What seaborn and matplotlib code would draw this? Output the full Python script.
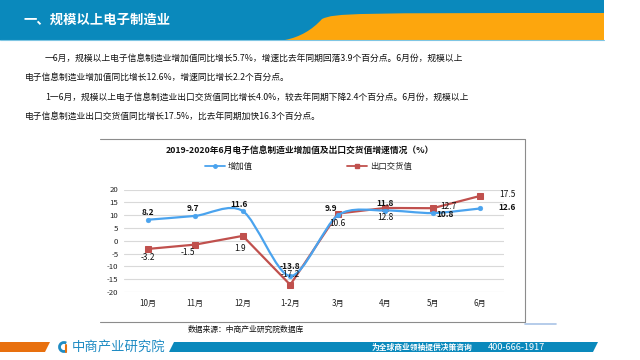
import matplotlib
matplotlib.use("Agg")
import matplotlib.pyplot as plt
import seaborn as sns
import numpy as np
import pandas as pd
from matplotlib.path import Path
from matplotlib.patches import PathPatch, Polygon, Rectangle, Arc
from matplotlib.lines import Line2D

# ---------------- data ----------------
months = ["10月", "11月", "12月", "1-2月", "3月", "4月", "5月", "6月"]
added_value = [8.2, 9.7, 11.6, -13.8, 9.9, 11.8, 10.8, 12.6]
export_value = [-3.2, -1.5, 1.9, -17.2, 10.6, 12.8, 12.7, 17.5]
y_ticks = [20, 15, 10, 5, 0, -5, -10, -15, -20]
series_names = ["增加值", "出口交货值"]

sns.set_theme(style="white")
FONT = ["Noto Sans CJK SC", "DejaVu Sans"]
plt.rcParams["font.family"] = FONT
plt.rcParams["axes.unicode_minus"] = False

BLUE_HDR = "#0A89BC"
ORANGE_HDR = "#FDA60D"
C_BLUE = "#4AA3EE"
C_RED = "#C0504D"

fig = plt.figure(figsize=(6.4, 3.6), dpi=100)
fig.patch.set_facecolor("white")

# background axes in pixel coordinates
bg = fig.add_axes([0, 0, 1, 1])
bg.set_xlim(0, 640)
bg.set_ylim(360, 0)
bg.axis("off")

# header
bg.add_patch(Rectangle((0, 0), 604, 40, color=BLUE_HDR, lw=0))
hdr = Path([(285, 40), (300, 37), (312, 30), (322, 19), (335, 13), (350, 13), (604, 13), (604, 40), (285, 40)],
           [Path.MOVETO, Path.CURVE4, Path.CURVE4, Path.CURVE4, Path.CURVE4, Path.LINETO, Path.LINETO, Path.LINETO, Path.CLOSEPOLY])
bg.add_patch(PathPatch(hdr, facecolor=ORANGE_HDR, edgecolor="none"))
bg.plot([0, 604], [39.5, 39.5], color="#7FC6E3", lw=0.8)
bg.text(23, 20, "一、规模以上电子制造业", color="white", fontsize=9.6, fontweight="bold",
        va="center", ha="left")

# paragraphs
para = [
    (45, 59, "一6月，规模以上电子信息制造业增加值同比增长5.7%，增速比去年同期回落3.9个百分点。6月份，规模以上"),
    (25, 78, "电子信息制造业增加值同比增长12.6%，增速同比增长2.2个百分点。"),
    (45, 98, "1一6月，规模以上电子信息制造业出口交货值同比增长4.0%，较去年同期下降2.4个百分点。6月份，规模以上"),
    (25, 117, "电子信息制造业出口交货值同比增长17.5%，比去年同期加快16.3个百分点。"),
]
for x, y, t in para:
    bg.text(x, y, t, fontsize=6.3, color="#111111", va="center", ha="left")

# chart frame
bg.plot([100, 525], [139, 139], color="#8C8C8C", lw=0.8)
bg.plot([525, 525], [139, 322], color="#8C8C8C", lw=0.8)
bg.plot([100, 525], [322, 322], color="#8C8C8C", lw=0.8)
bg.plot([525, 556], [323.5, 323.5], color="#A9C4E6", lw=1.2)

# chart title + legend
bg.text(300, 151, "2019-2020年6月电子信息制造业增加值及出口交货值增速情况（%）",
        fontsize=6.3, fontweight="bold", color="#111111", ha="center", va="center")
bg.add_line(Line2D([205, 225], [166, 166], color=C_BLUE, lw=1.3))
bg.plot([215], [166], marker="o", ms=2.5, color=C_BLUE)
bg.text(228, 166, series_names[0], fontsize=6, ha="left", va="center", color="#222222")
bg.add_line(Line2D([347, 367], [166, 166], color=C_RED, lw=1.3))
bg.plot([357], [166], marker="s", ms=3.5, color=C_RED)
bg.text(370, 166, series_names[1], fontsize=6, ha="left", va="center", color="#222222")

bg.text(246, 330, "数据来源：中商产业研究院数据库", fontsize=5.6, ha="center", va="center", color="#111111")

# footer
bg.add_patch(Polygon([(0, 342), (50, 342), (45, 352), (0, 352)], closed=True, color="#E8700E", lw=0))
bg.add_patch(Polygon([(174, 342), (598, 342), (593, 352), (169, 352)], closed=True, color=BLUE_HDR, lw=0))
bg.add_patch(Arc((64, 347), 9, 9, theta1=60, theta2=300, color="#1E8BC3", lw=2))
bg.plot([66, 66], [345, 352], color="#E8700E", lw=1.5)
bg.text(72, 347, "中商产业研究院", fontsize=9.6, color="#1E8BC3", ha="left", va="center")
bg.text(372, 347, "为全球商业领袖提供决策咨询", fontsize=5.6, color="white", ha="left", va="center", fontweight="bold")
bg.text(488, 347, "400-666-1917", fontsize=6.6, color="white", ha="left", va="center")

# ---------------- chart axes ----------------
L, R = 124 / 640, 504 / 640
B, T = 1 - 292 / 360, 1 - 189.5 / 360
ax = fig.add_axes([L, B, R - L, T - B])
ax.set_facecolor("none")

df = pd.DataFrame({"x": np.arange(len(months)), "增加值": added_value, "出口交货值": export_value})

# red series: straight lines with square markers
sns.lineplot(data=df, x="x", y="出口交货值", ax=ax, color=C_RED, lw=1.6, marker="s",
             markersize=5, markeredgecolor=C_RED, zorder=3)

# blue series: smoothed (Excel-style) bezier through data points
xs = df["x"].to_numpy(float)
ys = df["增加值"].to_numpy(float)
verts = [(xs[0], ys[0])]
codes = [Path.MOVETO]
n = len(xs)
k = 7.0
for i in range(n - 1):
    p0 = np.array([xs[max(i - 1, 0)], ys[max(i - 1, 0)]])
    p1 = np.array([xs[i], ys[i]])
    p2 = np.array([xs[i + 1], ys[i + 1]])
    p3 = np.array([xs[min(i + 2, n - 1)], ys[min(i + 2, n - 1)]])
    c1 = p1 + (p2 - p0) / k
    c2 = p2 - (p3 - p1) / k
    verts += [tuple(c1), tuple(c2), tuple(p2)]
    codes += [Path.CURVE4] * 3
ax.add_patch(PathPatch(Path(verts, codes), facecolor="none", edgecolor=C_BLUE, lw=1.6, zorder=4))
sns.scatterplot(data=df, x="x", y="增加值", ax=ax, color=C_BLUE, s=12, edgecolor=C_BLUE,
                marker="o", zorder=5, legend=False)

ax.set_xlim(-0.5, len(months) - 0.5)
ax.set_ylim(-20, 20)
ax.set_yticks(y_ticks)
ax.set_yticklabels([str(v) for v in y_ticks], fontsize=5.6, color="#222222")
ax.set_xticks(np.arange(len(months)))
ax.set_xticklabels(months, fontsize=5.8, color="#222222")
ax.tick_params(axis="x", length=0, pad=5)
ax.tick_params(axis="y", length=0, pad=4)
ax.grid(axis="y", color="#D9D9D9", lw=0.8)
ax.grid(axis="x", visible=False)
for s in ax.spines.values():
    s.set_visible(False)
ax.set_xlabel("")
ax.set_ylabel("")

# data labels (offsets in points)
blue_off = [(0, 5), (-2, 5), (-3, 5), (0, 7), (-5, 5), (0, 5), (9, -1), (13, 1)]
blue_ha = ["center", "center", "center", "center", "center", "center", "center", "left"]
for i, v in enumerate(added_value):
    ax.annotate(f"{v}", (i, v), xytext=blue_off[i], textcoords="offset points",
                ha=blue_ha[i], va="center", fontsize=6, fontweight="bold", color="#111111", zorder=6)
red_off = [(0, -6), (-5, -6), (-2, -9), (0, 7.5), (0, -7), (0, -7), (11, 1), (14, 1)]
red_ha = ["center", "center", "center", "center", "center", "center", "center", "left"]
for i, v in enumerate(export_value):
    ax.annotate(f"{v}", (i, v), xytext=red_off[i], textcoords="offset points",
                ha=red_ha[i], va="center", fontsize=6, color="#111111", zorder=6)

fig.savefig("out.png", dpi=100)
